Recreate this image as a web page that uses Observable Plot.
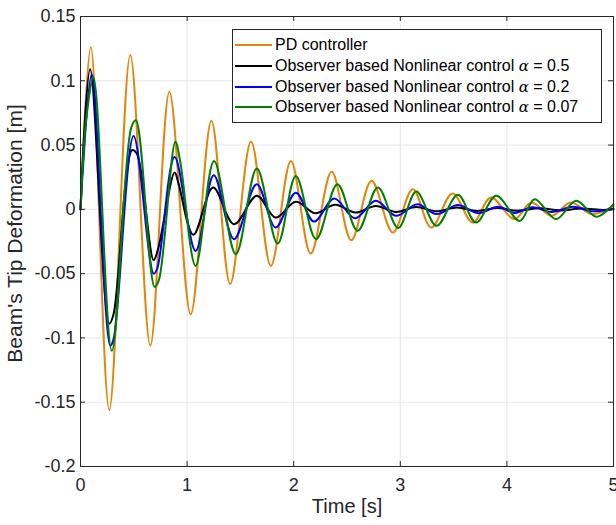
<!DOCTYPE html>
<html><head><meta charset="utf-8">
<script src="https://cdn.jsdelivr.net/npm/d3@7"></script>
<script src="https://cdn.jsdelivr.net/npm/@observablehq/plot@0.6"></script>
<style>
body{margin:0;background:#fff;}
#wrap{position:relative;width:616px;height:525px;font-family:"Liberation Sans",Arial,sans-serif;}
#legend{position:absolute;left:232px;top:29px;width:370px;height:94px;border:1px solid #262626;background:#fff;box-sizing:border-box;}
.row{position:absolute;left:2px;height:20px;display:flex;align-items:center;font-size:16px;color:#000;white-space:nowrap;}
.sw{width:37px;height:0;border-top:2px solid;margin-right:3px;}
.al{font-family:"DejaVu Serif",serif;font-style:italic;font-size:15px;}
</style></head><body><div id="wrap"></div>
<script>
// ---- data ----
const pdTime  = [0,0.097,0.27,0.467,0.655,0.834,1.034,1.228,1.404,1.60,1.786,1.974,2.16,2.356,2.54,2.73,2.93,3.117,3.29,3.49,3.68,3.85,4.07,4.23,4.42,4.6,4.8,5.0];
const pdValue = [0,0.126,-0.156,0.120,-0.106,0.0914,-0.0815,0.0689,-0.058,0.0527,-0.044,0.0377,-0.0344,0.0294,-0.024,0.0222,-0.018,0.0157,-0.0141,0.0123,-0.0103,0.0092,-0.0076,0.0053,-0.005,0.0053,-0.0037,0.0027];

const a05Time  = [0,0.091,0.27,0.31,0.483,0.53,0.686,0.727,0.883,0.921,1.059,1.244,1.44,1.654,1.83,2.02,2.2,2.39,2.58,2.77,2.96,3.15,3.34,3.53,3.72,3.91,4.1,4.3,4.5,4.7,4.9,5.0];
const a05Value = [0,0.109,-0.0888,-0.0815,0.046,0.043,-0.0395,-0.031,0.0286,0.0196,-0.0198,0.017,-0.0115,0.0105,-0.0064,0.006,-0.003,0.0035,-0.0025,0.0027,-0.002,0.0018,-0.0015,0.0015,-0.0012,0.001,-0.001,0.0008,-0.0008,0.0006,-0.0005,0];

const a02Time  = [0,0.106,0.279,0.31,0.498,0.686,0.72,0.883,1.08,1.25,1.44,1.654,1.83,2.02,2.19,2.38,2.575,2.77,2.96,3.16,3.34,3.54,3.73,3.92,4.07,4.24,4.42,4.62,4.8,5.0];
const a02Value = [0,0.105,-0.106,-0.101,0.057,-0.050,-0.046,0.0408,-0.0323,0.0266,-0.0232,0.0196,-0.0141,0.013,-0.0095,0.0084,-0.0069,0.0066,-0.005,0.004,-0.0037,0.0033,-0.003,0.002,-0.0028,0.0016,-0.002,0.002,-0.0015,0.0005];

const a007Time  = [0,0.059,0.122,0.294,0.476,0.52,0.695,0.735,0.89,0.937,1.08,1.253,1.457,1.654,1.85,2.02,2.21,2.41,2.6,2.79,2.98,3.15,3.34,3.54,3.71,3.9,4.12,4.26,4.46,4.65,4.84,5.0];
const a007Value = [0,0.074,0.1025,-0.110,0.0636,0.0693,-0.0603,-0.055,0.0525,0.0364,-0.044,0.0377,-0.0349,0.0317,-0.0266,0.026,-0.0232,0.0196,-0.0167,0.017,-0.0145,0.0138,-0.0128,0.0113,-0.0103,0.0105,-0.009,0.0079,-0.0076,0.0066,-0.0058,0.004];

const seriesLabels = ["PD controller","Observer based Nonlinear control","Observer based Nonlinear control","Observer based Nonlinear control"];
const alphaLabels  = [null,"0.5","0.2","0.07"];
const xTicks = [0,1,2,3,4,5];
const yTicks = [-0.2,-0.15,-0.1,-0.05,0,0.05,0.1,0.15];
const xLabel = "Time [s]";
const yLabel = "Beam's Tip Deformation [m]";

// ---- styles ----
const colors = ["#e3860b","#000000","#0000ff","#008000"];
const axisColor = "#262626";
const gridColor = "#e6e6e6";

const seriesData = [[pdTime,pdValue],[a05Time,a05Value],[a02Time,a02Value],[a007Time,a007Value]]
  .map(([t,v]) => t.map((ti,i) => ({t: ti, v: v[i]})));

const plot = Plot.plot({
  width: 616, height: 525,
  marginLeft: 80, marginRight: 3, marginTop: 16, marginBottom: 59,
  style: {fontFamily: "'Liberation Sans', Arial, sans-serif", fontSize: "18px", color: axisColor, background: "#fff"},
  x: {domain: [0, 5]},
  y: {domain: [-0.2, 0.15]},
  marks: [
    Plot.gridX(xTicks, {stroke: gridColor, strokeOpacity: 1}),
    Plot.gridY(yTicks, {stroke: gridColor, strokeOpacity: 1}),
    ...seriesData.map((d, i) => Plot.line(d, {x: "t", y: "v", stroke: colors[i], strokeWidth: 2, curve: "catmull-rom"})),
    Plot.frame({stroke: axisColor}),
    Plot.ruleX(xTicks, {stroke: axisColor, insetTop: 445}),
    Plot.ruleX(xTicks, {stroke: axisColor, insetBottom: 445}),
    Plot.ruleY(yTicks, {stroke: axisColor, insetRight: 528}),
    Plot.ruleY(yTicks, {stroke: axisColor, insetLeft: 528}),
    Plot.axisX(xTicks, {tickSize: 0, tickPadding: 12, label: null, tickFormat: d => String(d)}),
    Plot.axisY(yTicks, {tickSize: 0, tickPadding: 5, label: null, tickFormat: d => String(d)}),
    Plot.text([xLabel], {frameAnchor: "bottom", dy: 46, fontSize: 20, fill: axisColor}),
    Plot.text([yLabel], {frameAnchor: "left", dx: -65, dy: -8, rotate: -90, textAnchor: "middle", fontSize: 21, fill: axisColor})
  ]
});
const wrap = document.getElementById("wrap");
wrap.appendChild(plot);

const legend = document.createElement("div");
legend.id = "legend";
const rowCenters = [15, 36, 57, 77];
seriesLabels.forEach((lab, i) => {
  const row = document.createElement("div");
  row.className = "row";
  row.style.top = (rowCenters[i] - 10) + "px";
  const sw = document.createElement("span");
  sw.className = "sw";
  sw.style.borderTopColor = colors[i];
  row.appendChild(sw);
  const txt = document.createElement("span");
  txt.textContent = lab;
  row.appendChild(txt);
  if (alphaLabels[i]) {
    const sp = document.createElement("span");
    sp.innerHTML = "&nbsp;<span class='al'>α</span> = " + alphaLabels[i];
    row.appendChild(sp);
  }
  legend.appendChild(row);
});
wrap.appendChild(legend);
</script></body></html>
